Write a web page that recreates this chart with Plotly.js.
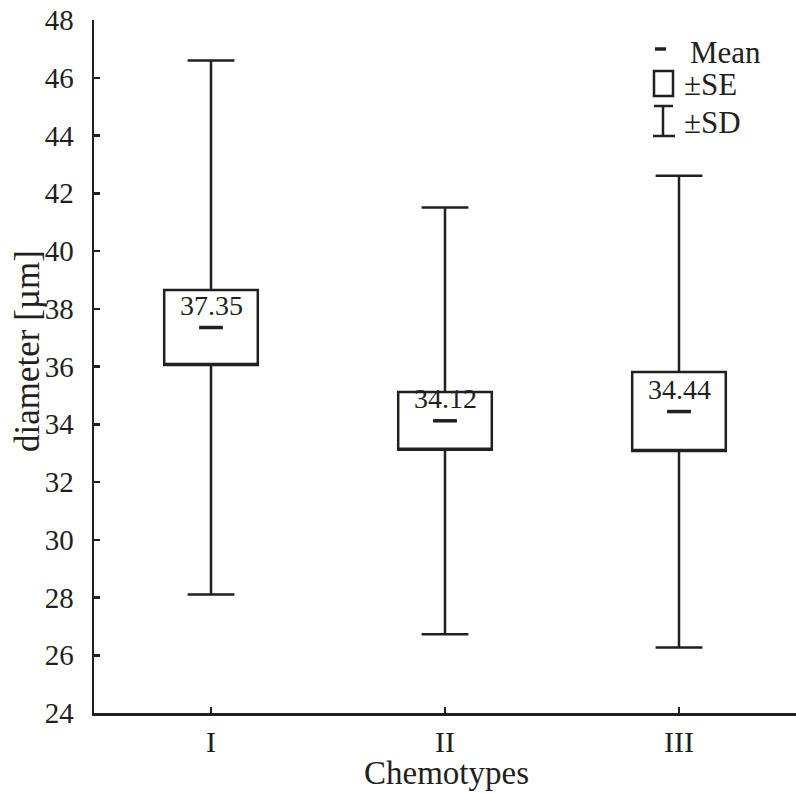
<!DOCTYPE html>
<html>
<head>
<meta charset="utf-8">
<script src="https://cdn.plot.ly/plotly-3.0.1.min.js"></script>
<style>html,body{margin:0;padding:0;background:#fff;}#chart{width:796px;height:793px;}</style>
</head>
<body>
<div id="chart"></div>
<script>
// Data
const categories = ["I", "II", "III"];
const meanValues = [37.35, 34.12, 34.44];
const seValues = [1.30, 1.00, 1.37];
const sdValues = [9.25, 7.39, 8.17];
const yTicks = [24, 26, 28, 30, 32, 34, 36, 38, 40, 42, 44, 46, 48];

const INK = "#231f20";
const FONT = "Liberation Serif";

const q1 = meanValues.map((m, i) => m - seValues[i]);
const q3 = meanValues.map((m, i) => m + seValues[i]);
const lo = meanValues.map((m, i) => m - sdValues[i]);
const hi = meanValues.map((m, i) => m + sdValues[i]);

const boxTrace = {
  type: "box",
  x: categories,
  q1: q1,
  median: q1,
  q3: q3,
  lowerfence: lo,
  upperfence: hi,
  width: 0.4,
  whiskerwidth: 0.5,
  fillcolor: "#ffffff",
  line: { color: INK, width: 2.5 },
  boxpoints: false,
  hoverinfo: "skip",
  showlegend: false
};

const meanTrace = {
  type: "scatter",
  mode: "markers",
  x: categories,
  y: meanValues,
  marker: { symbol: "line-ew", size: 17, line: { color: INK, width: 3.5 } },
  cliponaxis: false,
  hoverinfo: "skip",
  showlegend: false
};

// value labels above each mean marker, built from the data arrays
const labelFont = { family: FONT, size: 28, color: INK };
const valueLabels = categories.map((c, i) => ({
  xref: "x", yref: "y", x: c, y: meanValues[i],
  text: meanValues[i].toFixed(2), showarrow: false,
  xanchor: "center", yanchor: "middle", yshift: 22, font: labelFont
}));

// plot area geometry (pixels) used to place the hand-drawn legend and titles
const L = 94, R = 796, T = 20, B = 713;
const px = x => (x - L) / (R - L);
const py = y => (B - y) / (B - T);

const shapes = [
  { type: "line", xref: "paper", yref: "paper", x0: px(655), x1: px(666), y0: py(49), y1: py(49), line: { color: INK, width: 3.5 } },
  { type: "rect", xref: "paper", yref: "paper", x0: px(654), x1: px(673), y0: py(71), y1: py(96), line: { color: INK, width: 2.5 } },
  { type: "line", xref: "paper", yref: "paper", x0: px(654), x1: px(673), y0: py(106), y1: py(106), line: { color: INK, width: 2.5 } },
  { type: "line", xref: "paper", yref: "paper", x0: px(663), x1: px(663), y0: py(106), y1: py(136), line: { color: INK, width: 2.5 } },
  { type: "line", xref: "paper", yref: "paper", x0: px(653), x1: px(675), y0: py(136), y1: py(136), line: { color: INK, width: 2.5 } }
];

const legendFont = { family: FONT, size: 31, color: INK };
const titleFont = { family: FONT, size: 33, color: INK };
const annotations = valueLabels.concat([
  { xref: "paper", yref: "paper", x: px(688), y: py(52), text: "Mean", showarrow: false, xanchor: "left", yanchor: "middle", font: legendFont },
  { xref: "paper", yref: "paper", x: px(682), y: py(85), text: "±SE", showarrow: false, xanchor: "left", yanchor: "middle", font: legendFont },
  { xref: "paper", yref: "paper", x: px(682), y: py(122), text: "±SD", showarrow: false, xanchor: "left", yanchor: "middle", font: legendFont },
  { xref: "paper", yref: "paper", x: px(27), y: py(351), text: "diameter [µm]", textangle: -90, showarrow: false, xanchor: "center", yanchor: "middle", font: { family: FONT, size: 35, color: INK } },
  { xref: "paper", yref: "paper", x: px(447), y: py(773), text: "Chemotypes", showarrow: false, xanchor: "center", yanchor: "middle", font: titleFont }
]);

const layout = {
  width: 796,
  height: 793,
  margin: { l: L, r: 796 - R, t: T, b: 793 - B },
  paper_bgcolor: "#ffffff",
  plot_bgcolor: "#ffffff",
  showlegend: false,
  font: { family: FONT, color: INK },
  xaxis: {
    type: "category",
    range: [-0.5, 2.5],
    showline: true,
    linecolor: INK,
    linewidth: 2.5,
    ticks: "inside",
    ticklen: 6,
    tickwidth: 2.5,
    tickcolor: INK,
    showgrid: false,
    zeroline: false,
    tickfont: { family: FONT, size: 30, color: INK },
    ticklabelstandoff: 0,
    automargin: false
  },
  yaxis: {
    range: [24, 48],
    tickvals: yTicks,
    ticktext: yTicks.map(String),
    showline: true,
    linecolor: INK,
    linewidth: 2.5,
    ticks: "inside",
    ticklen: 6,
    tickwidth: 2.5,
    tickcolor: INK,
    showgrid: false,
    zeroline: false,
    tickfont: { family: FONT, size: 29, color: INK },
    ticklabelstandoff: 12,
    automargin: false
  },
  shapes: shapes,
  annotations: annotations
};

Plotly.newPlot("chart", [boxTrace, meanTrace], layout, { displayModeBar: false, staticPlot: true });
</script>
</body>
</html>
